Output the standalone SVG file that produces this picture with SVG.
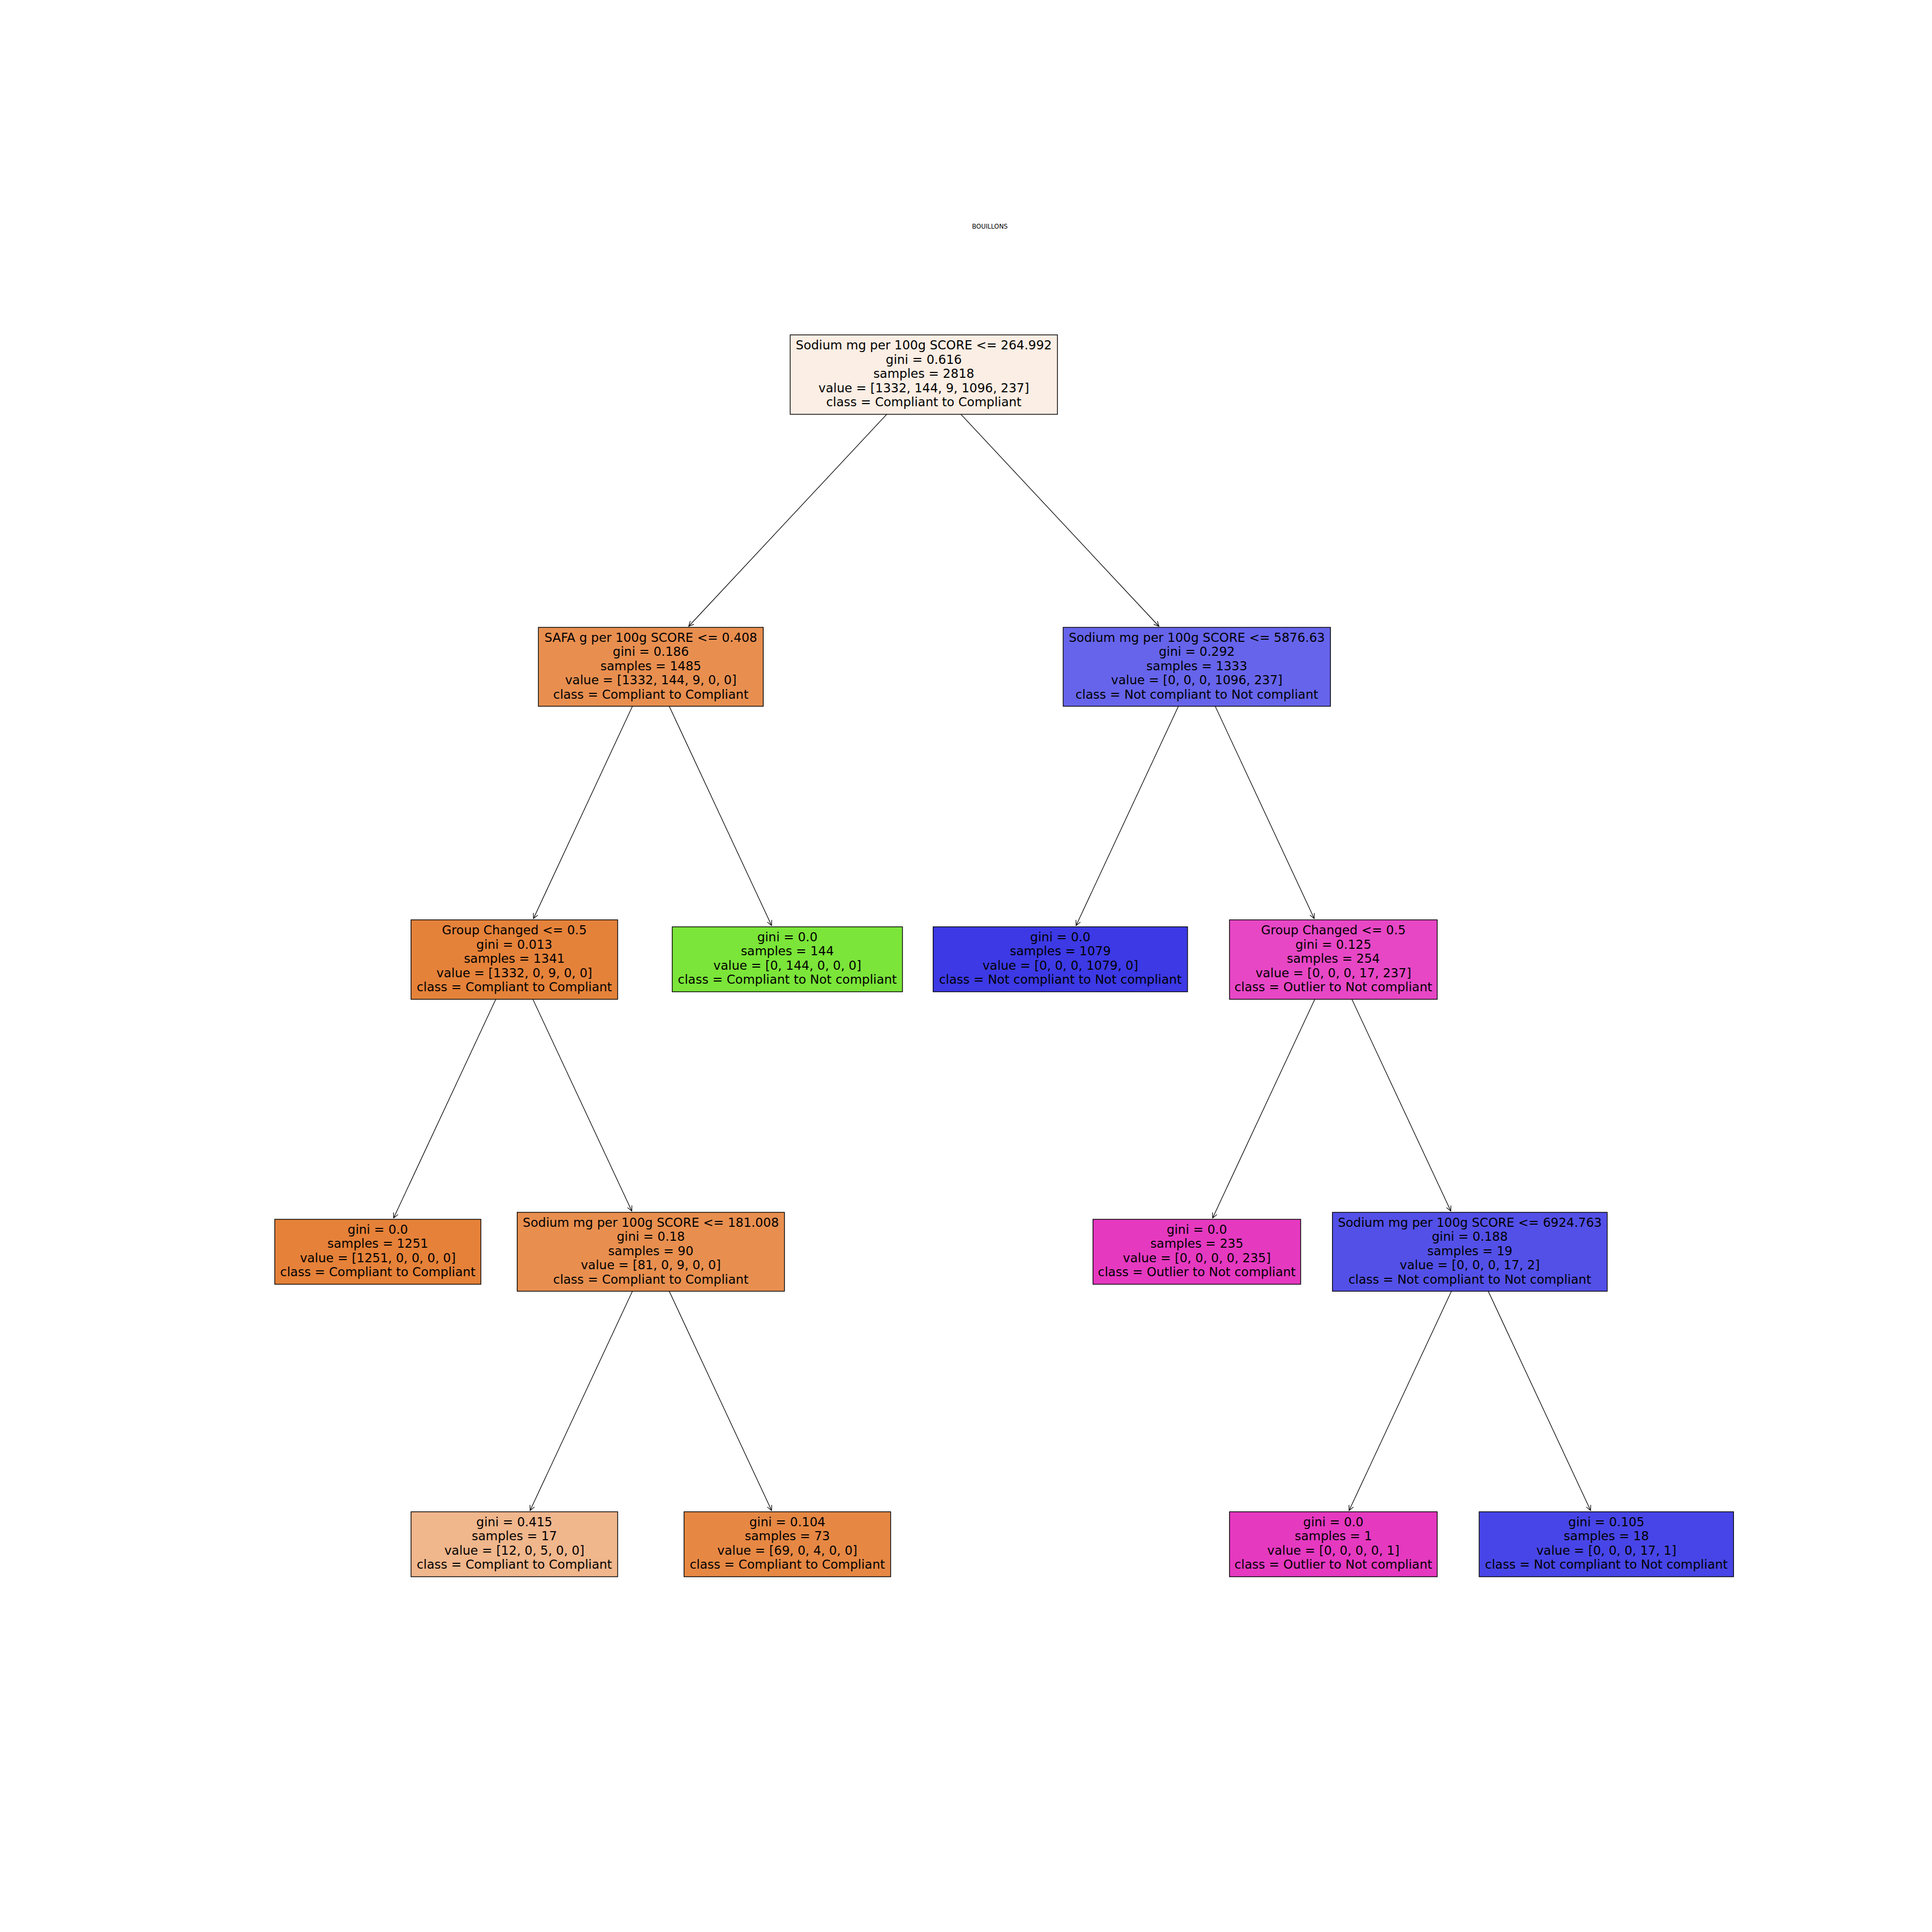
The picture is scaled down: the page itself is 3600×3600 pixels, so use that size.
<svg xmlns="http://www.w3.org/2000/svg" width="3600" height="3600" viewBox="0 0 3600 3600">
<style>
.box{stroke:#000;stroke-width:1.39}
.t{font-family:"DejaVu Sans","Liberation Sans",sans-serif;font-size:23px;fill:#000;text-anchor:middle}
.e{fill:none;stroke:#000;stroke-width:1.2}
</style>
<defs>
<marker id="ah" markerUnits="userSpaceOnUse" orient="auto" markerWidth="24" markerHeight="24" viewBox="-12 -12 24 24" refX="0" refY="0" overflow="visible">
<path d="M-9.2,-4.6 L0,0 L-9.2,4.6" fill="none" stroke="#000" stroke-width="1.2"/>
</marker>
</defs>
<rect width="3600" height="3600" fill="#fff"/>
<text x="1844.5" y="426" style="font-family:'DejaVu Sans','Liberation Sans',sans-serif;font-size:11.6px;fill:#000;text-anchor:middle">BOUILLONS</text>
<g id="connectors">
<path class="e" marker-end="url(#ah)" d="M1721.4,698 L1283.3,1167"/>
<path class="e" marker-end="url(#ah)" d="M1721.4,698 L2159.5,1167"/>
<path class="e" marker-end="url(#ah)" d="M1212.7,1242.5 L994.1,1711.5"/>
<path class="e" marker-end="url(#ah)" d="M1212.7,1242.5 L1437.7,1724.5"/>
<path class="e" marker-end="url(#ah)" d="M2230.1,1242.5 L2005.2,1724.5"/>
<path class="e" marker-end="url(#ah)" d="M2230.1,1242.5 L2448.8,1711.5"/>
<path class="e" marker-end="url(#ah)" d="M958.4,1788 L733.5,2269.5"/>
<path class="e" marker-end="url(#ah)" d="M958.4,1788 L1177.2,2256.5"/>
<path class="e" marker-end="url(#ah)" d="M2484.5,1788 L2259.6,2269.5"/>
<path class="e" marker-end="url(#ah)" d="M2484.5,1788 L2703.3,2256.5"/>
<path class="e" marker-end="url(#ah)" d="M1212.7,2332.5 L987.8,2814.5"/>
<path class="e" marker-end="url(#ah)" d="M1212.7,2332.5 L1437.7,2814.5"/>
<path class="e" marker-end="url(#ah)" d="M2738.8,2332.5 L2513.9,2814.5"/>
<path class="e" marker-end="url(#ah)" d="M2738.8,2332.5 L2963.8,2814.5"/>
</g>
<g id="n0">
<rect class="box" x="1472.4" y="624" width="498" height="148" fill="#fbeee4"/>
<text class="t"><tspan x="1721.4" y="651">Sodium mg per 100g SCORE &lt;= 264.992</tspan><tspan x="1721.4" y="677.5">gini = 0.616</tspan><tspan x="1721.4" y="704">samples = 2818</tspan><tspan x="1721.4" y="730.5">value = [1332, 144, 9, 1096, 237]</tspan><tspan x="1721.4" y="757">class = Compliant to Compliant</tspan></text>
</g>
<g id="n1">
<rect class="box" x="1003.2" y="1169" width="419" height="147" fill="#e88f50"/>
<text class="t"><tspan x="1212.7" y="1195.5">SAFA g per 100g SCORE &lt;= 0.408</tspan><tspan x="1212.7" y="1222">gini = 0.186</tspan><tspan x="1212.7" y="1248.5">samples = 1485</tspan><tspan x="1212.7" y="1275">value = [1332, 144, 9, 0, 0]</tspan><tspan x="1212.7" y="1301.5">class = Compliant to Compliant</tspan></text>
</g>
<g id="n2">
<rect class="box" x="1981.1" y="1169" width="498" height="147" fill="#6664eb"/>
<text class="t"><tspan x="2230.1" y="1195.5">Sodium mg per 100g SCORE &lt;= 5876.63</tspan><tspan x="2230.1" y="1222">gini = 0.292</tspan><tspan x="2230.1" y="1248.5">samples = 1333</tspan><tspan x="2230.1" y="1275">value = [0, 0, 0, 1096, 237]</tspan><tspan x="2230.1" y="1301.5">class = Not compliant to Not compliant</tspan></text>
</g>
<g id="n3">
<rect class="box" x="765.9" y="1714" width="385" height="148" fill="#e5823a"/>
<text class="t"><tspan x="958.4" y="1741">Group Changed &lt;= 0.5</tspan><tspan x="958.4" y="1767.5">gini = 0.013</tspan><tspan x="958.4" y="1794">samples = 1341</tspan><tspan x="958.4" y="1820.5">value = [1332, 0, 9, 0, 0]</tspan><tspan x="958.4" y="1847">class = Compliant to Compliant</tspan></text>
</g>
<g id="n4">
<rect class="box" x="1252.6" y="1727" width="429" height="121" fill="#7be539"/>
<text class="t"><tspan x="1467.1" y="1753.75">gini = 0.0</tspan><tspan x="1467.1" y="1780.25">samples = 144</tspan><tspan x="1467.1" y="1806.75">value = [0, 144, 0, 0, 0]</tspan><tspan x="1467.1" y="1833.25">class = Compliant to Not compliant</tspan></text>
</g>
<g id="n5">
<rect class="box" x="1738.8" y="1727" width="474" height="121" fill="#3c39e5"/>
<text class="t"><tspan x="1975.8" y="1753.75">gini = 0.0</tspan><tspan x="1975.8" y="1780.25">samples = 1079</tspan><tspan x="1975.8" y="1806.75">value = [0, 0, 0, 1079, 0]</tspan><tspan x="1975.8" y="1833.25">class = Not compliant to Not compliant</tspan></text>
</g>
<g id="n6">
<rect class="box" x="2291" y="1714" width="387" height="148" fill="#e747c5"/>
<text class="t"><tspan x="2484.5" y="1741">Group Changed &lt;= 0.5</tspan><tspan x="2484.5" y="1767.5">gini = 0.125</tspan><tspan x="2484.5" y="1794">samples = 254</tspan><tspan x="2484.5" y="1820.5">value = [0, 0, 0, 17, 237]</tspan><tspan x="2484.5" y="1847">class = Outlier to Not compliant</tspan></text>
</g>
<g id="n7">
<rect class="box" x="512" y="2272" width="384" height="121" fill="#e58139"/>
<text class="t"><tspan x="704" y="2298.75">gini = 0.0</tspan><tspan x="704" y="2325.25">samples = 1251</tspan><tspan x="704" y="2351.75">value = [1251, 0, 0, 0, 0]</tspan><tspan x="704" y="2378.25">class = Compliant to Compliant</tspan></text>
</g>
<g id="n8">
<rect class="box" x="963.7" y="2259" width="498" height="147" fill="#e88f4f"/>
<text class="t"><tspan x="1212.7" y="2285.5">Sodium mg per 100g SCORE &lt;= 181.008</tspan><tspan x="1212.7" y="2312">gini = 0.18</tspan><tspan x="1212.7" y="2338.5">samples = 90</tspan><tspan x="1212.7" y="2365">value = [81, 0, 9, 0, 0]</tspan><tspan x="1212.7" y="2391.5">class = Compliant to Compliant</tspan></text>
</g>
<g id="n9">
<rect class="box" x="2036.6" y="2272" width="387" height="121" fill="#e539c0"/>
<text class="t"><tspan x="2230.1" y="2298.75">gini = 0.0</tspan><tspan x="2230.1" y="2325.25">samples = 235</tspan><tspan x="2230.1" y="2351.75">value = [0, 0, 0, 0, 235]</tspan><tspan x="2230.1" y="2378.25">class = Outlier to Not compliant</tspan></text>
</g>
<g id="n10">
<rect class="box" x="2482.8" y="2259" width="512" height="147" fill="#5350e8"/>
<text class="t"><tspan x="2738.8" y="2285.5">Sodium mg per 100g SCORE &lt;= 6924.763</tspan><tspan x="2738.8" y="2312">gini = 0.188</tspan><tspan x="2738.8" y="2338.5">samples = 19</tspan><tspan x="2738.8" y="2365">value = [0, 0, 0, 17, 2]</tspan><tspan x="2738.8" y="2391.5">class = Not compliant to Not compliant</tspan></text>
</g>
<g id="n11">
<rect class="box" x="765.9" y="2817" width="385" height="121" fill="#f0b68c"/>
<text class="t"><tspan x="958.4" y="2843.75">gini = 0.415</tspan><tspan x="958.4" y="2870.25">samples = 17</tspan><tspan x="958.4" y="2896.75">value = [12, 0, 5, 0, 0]</tspan><tspan x="958.4" y="2923.25">class = Compliant to Compliant</tspan></text>
</g>
<g id="n12">
<rect class="box" x="1274.6" y="2817" width="385" height="121" fill="#e68844"/>
<text class="t"><tspan x="1467.1" y="2843.75">gini = 0.104</tspan><tspan x="1467.1" y="2870.25">samples = 73</tspan><tspan x="1467.1" y="2896.75">value = [69, 0, 4, 0, 0]</tspan><tspan x="1467.1" y="2923.25">class = Compliant to Compliant</tspan></text>
</g>
<g id="n13">
<rect class="box" x="2291" y="2817" width="387" height="121" fill="#e539c0"/>
<text class="t"><tspan x="2484.5" y="2843.75">gini = 0.0</tspan><tspan x="2484.5" y="2870.25">samples = 1</tspan><tspan x="2484.5" y="2896.75">value = [0, 0, 0, 0, 1]</tspan><tspan x="2484.5" y="2923.25">class = Outlier to Not compliant</tspan></text>
</g>
<g id="n14">
<rect class="box" x="2756.2" y="2817" width="474" height="121" fill="#4745e7"/>
<text class="t"><tspan x="2993.2" y="2843.75">gini = 0.105</tspan><tspan x="2993.2" y="2870.25">samples = 18</tspan><tspan x="2993.2" y="2896.75">value = [0, 0, 0, 17, 1]</tspan><tspan x="2993.2" y="2923.25">class = Not compliant to Not compliant</tspan></text>
</g>
</svg>
